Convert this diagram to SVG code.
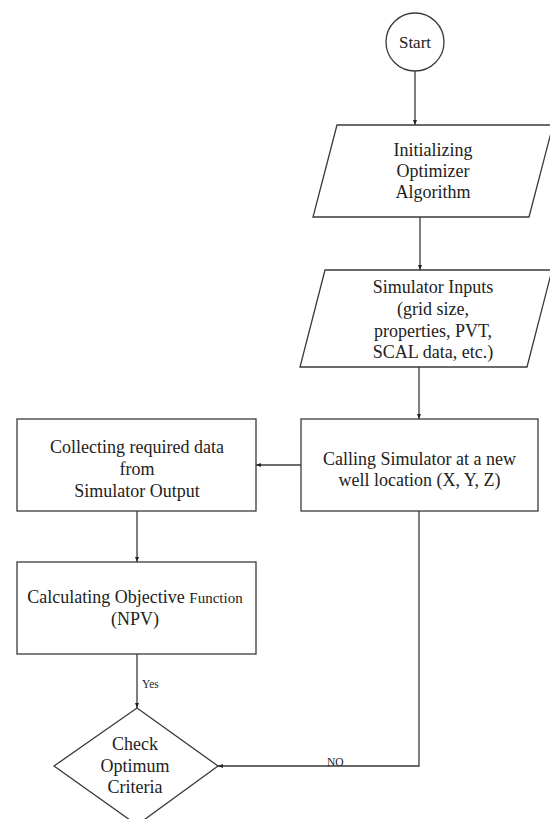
<svg xmlns="http://www.w3.org/2000/svg" width="550" height="819" viewBox="0 0 550 819">
<style>
.shape{fill:#fff;stroke:#3a3a3a;stroke-width:1.3}
.conn{fill:none;stroke:#3a3a3a;stroke-width:1.3}
text{font-family:"Liberation Serif","Times New Roman",serif;fill:#222;text-anchor:middle}
.t{font-size:18px}
.s{font-size:11.5px;text-anchor:start}
</style>
<defs>
<marker id="ah" viewBox="0 0 10 10" refX="10" refY="5" markerWidth="5" markerHeight="5" orient="auto" markerUnits="userSpaceOnUse">
<path d="M0,1 L10,5 L0,9 z" fill="#222"/>
</marker>
</defs>
<rect width="550" height="819" fill="#fff"/>
<g id="connectors">
<path class="conn" d="M415,71 V125" marker-end="url(#ah)"/>
<path class="conn" d="M420,217 V270" marker-end="url(#ah)"/>
<path class="conn" d="M419,367 V419" marker-end="url(#ah)"/>
<path class="conn" d="M301,465 H256" marker-end="url(#ah)"/>
<path class="conn" d="M137,511 V562" marker-end="url(#ah)"/>
<path class="conn" d="M137,654 V708" marker-end="url(#ah)"/>
<path class="conn" d="M419,511 V766 H218" marker-end="url(#ah)"/>
<text class="s" x="142" y="688">Yes</text>
<text class="s" x="327" y="766">NO</text>
</g>
<g id="start">
<circle class="shape" cx="415" cy="42" r="29"/>
<text class="t" x="415" y="48" style="font-size:17px">Start</text>
</g>
<g id="init">
<polygon class="shape" points="337,125 553,125 529,217 313,217"/>
<text class="t" x="433" y="156">Initializing</text>
<text class="t" x="433" y="177">Optimizer</text>
<text class="t" x="433" y="198">Algorithm</text>
</g>
<g id="inputs">
<polygon class="shape" points="325,270 552,270 527,367 300,367"/>
<text class="t" x="433" y="293">Simulator Inputs</text>
<text class="t" x="433" y="315">(grid size,</text>
<text class="t" x="433" y="337">properties, PVT,</text>
<text class="t" x="433" y="358">SCAL data, etc.)</text>
</g>
<g id="calling">
<rect class="shape" x="301" y="419" width="237" height="92"/>
<text class="t" x="419.5" y="465">Calling Simulator at a new</text>
<text class="t" x="419.5" y="486">well location (X, Y, Z)</text>
</g>
<g id="collecting">
<rect class="shape" x="17" y="419" width="239" height="92"/>
<text class="t" x="137" y="453">Collecting required data</text>
<text class="t" x="137" y="475">from</text>
<text class="t" x="137" y="497">Simulator Output</text>
</g>
<g id="calculating">
<rect class="shape" x="17" y="562" width="239" height="92"/>
<text class="t" x="135" y="603">Calculating Objective <tspan style="font-size:15px">Function</tspan></text>
<text class="t" x="135" y="625">(NPV)</text>
</g>
<g id="check">
<polygon class="shape" points="137,708 218,766 137,825 54,766"/>
<text class="t" x="135" y="750">Check</text>
<text class="t" x="135" y="772">Optimum</text>
<text class="t" x="135" y="793">Criteria</text>
</g>
</svg>
